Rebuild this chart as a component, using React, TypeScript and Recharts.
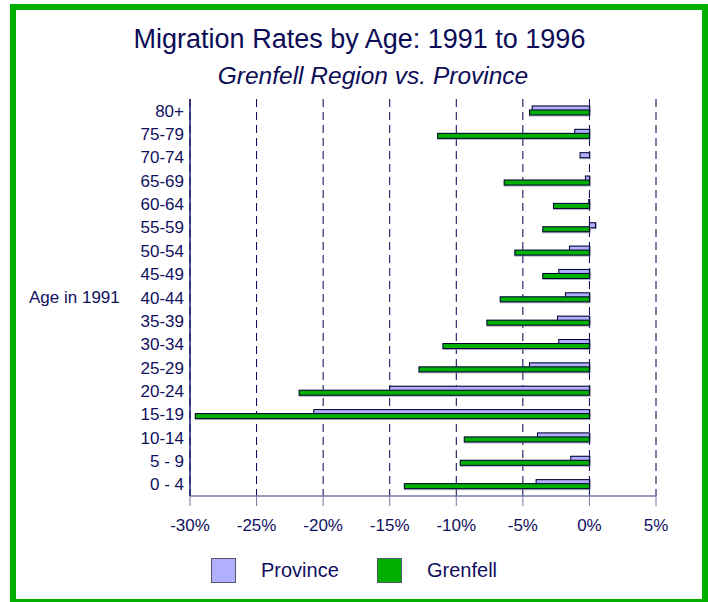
import { BarChart, Bar, XAxis, YAxis, CartesianGrid } from "recharts";

const NAVY = "#10105e";
const PROVINCE = "#b0b0ff";
const GRENFELL = "#00b000";
const AXIS_GREY = "#7878a8";

const ages = [
  "80+", "75-79", "70-74", "65-69", "60-64", "55-59", "50-54", "45-49", "40-44",
  "35-39", "30-34", "25-29", "20-24", "15-19", "10-14", "5 - 9", "0 - 4",
];
const province = [
  -4.3, -1.1, -0.7, -0.3, -0.05, 0.45, -1.5, -2.3, -1.8,
  -2.4, -2.3, -4.5, -15.0, -20.7, -3.9, -1.4, -4.0,
];
const grenfell = [
  -4.5, -11.4, 0, -6.4, -2.7, -3.5, -5.6, -3.5, -6.7,
  -7.7, -11.0, -12.8, -21.8, -29.6, -9.4, -9.7, -13.9,
];
const xTicks = [-30, -25, -20, -15, -10, -5, 0, 5];

const data = ages.map((age, i) => ({
  age,
  province: province[i],
  grenfell: grenfell[i],
}));

/* Bar with the thin grey drop shadow the original export puts under each mark. */
function ShadowBar(props: {
  x?: number;
  y?: number;
  width?: number;
  height?: number;
  fill?: string;
}) {
  const { x, y, width, height, fill } = props;
  if (x == null || y == null || width == null || height == null) return null;
  const x0 = width < 0 ? x + width : x;
  const w = Math.abs(width);
  if (w < 0.5) return null;
  return (
    <g>
      <rect x={x0 - 0.5} y={y - 0.5} width={w + 2} height={height + 2} fill="#8c8ca4" opacity={0.7} />
      <rect x={x0} y={y} width={w} height={height} fill={fill} stroke="#000033" strokeWidth={1} />
    </g>
  );
}

const tickFont = { fill: NAVY, fontSize: 17, fontFamily: '"Liberation Sans", Arial, sans-serif' };

export default function App() {
  return (
    <div
      style={{
        position: "absolute",
        left: 0,
        top: 0,
        width: 708,
        height: 602,
        overflow: "hidden",
        background: "#fff",
        fontFamily: '"Liberation Sans", Arial, sans-serif',
        color: NAVY,
      }}
    >
      <div
        style={{
          position: "absolute",
          left: 10,
          top: 4,
          width: 698,
          height: 601,
          boxSizing: "border-box",
          border: `6px solid ${GRENFELL}`,
        }}
      />
      <div
        style={{
          position: "absolute",
          left: 0,
          width: 719,
          top: 24,
          textAlign: "center",
          fontSize: 27,
          lineHeight: "normal",
          color: "#0c0c56",
        }}
      >
        Migration Rates by Age: 1991 to 1996
      </div>
      <div
        style={{
          position: "absolute",
          left: 0,
          width: 746,
          top: 62,
          textAlign: "center",
          fontSize: 24.5,
          fontStyle: "italic",
          color: "#0c0c56",
        }}
      >
        Grenfell Region vs. Province
      </div>
      <div style={{ position: "absolute", left: 29, top: 288, fontSize: 17 }}>Age in 1991</div>

      <div style={{ position: "absolute", left: 0, top: 0 }}>
        <BarChart
          width={708}
          height={602}
          data={data}
          layout="vertical"
          margin={{ top: 99, right: 52, bottom: 76, left: 0 }}
          barSize={5}
          barGap={-1}
          barCategoryGap={0}
        >
          <CartesianGrid horizontal={false} stroke="#000050" strokeDasharray="8 5" />
          <XAxis
            type="number"
            domain={[-30, 5]}
            ticks={xTicks}
            tickFormatter={(v: number) => `${v}%`}
            tick={tickFont}
            axisLine={{ stroke: AXIS_GREY, strokeWidth: 1.5 }}
            tickLine={{ stroke: AXIS_GREY }}
            tickSize={10}
            tickMargin={13}
            height={30}
            interval={0}
          />
          <YAxis
            type="category"
            dataKey="age"
            width={190}
            tick={tickFont}
            axisLine={{ stroke: "#1a1a6a", strokeWidth: 1.5 }}
            tickLine={false}
            tickSize={0}
            tickMargin={6}
            interval={0}
          />
          <Bar dataKey="province" fill={PROVINCE} shape={<ShadowBar />} isAnimationActive={false} />
          <Bar dataKey="grenfell" fill={GRENFELL} shape={<ShadowBar />} isAnimationActive={false} />
        </BarChart>
      </div>

      {[
        { label: "Province", color: PROVINCE, x: 211 },
        { label: "Grenfell", color: GRENFELL, x: 377 },
      ].map((l) => (
        <div key={l.label} style={{ position: "absolute", left: l.x, top: 558, display: "flex", alignItems: "center" }}>
          <div
            style={{
              width: 25,
              height: 25,
              boxSizing: "border-box",
              background: l.color,
              border: "1.5px solid #555570",
            }}
          />
          <span style={{ marginLeft: 25, fontSize: 20 }}>{l.label}</span>
        </div>
      ))}
    </div>
  );
}
